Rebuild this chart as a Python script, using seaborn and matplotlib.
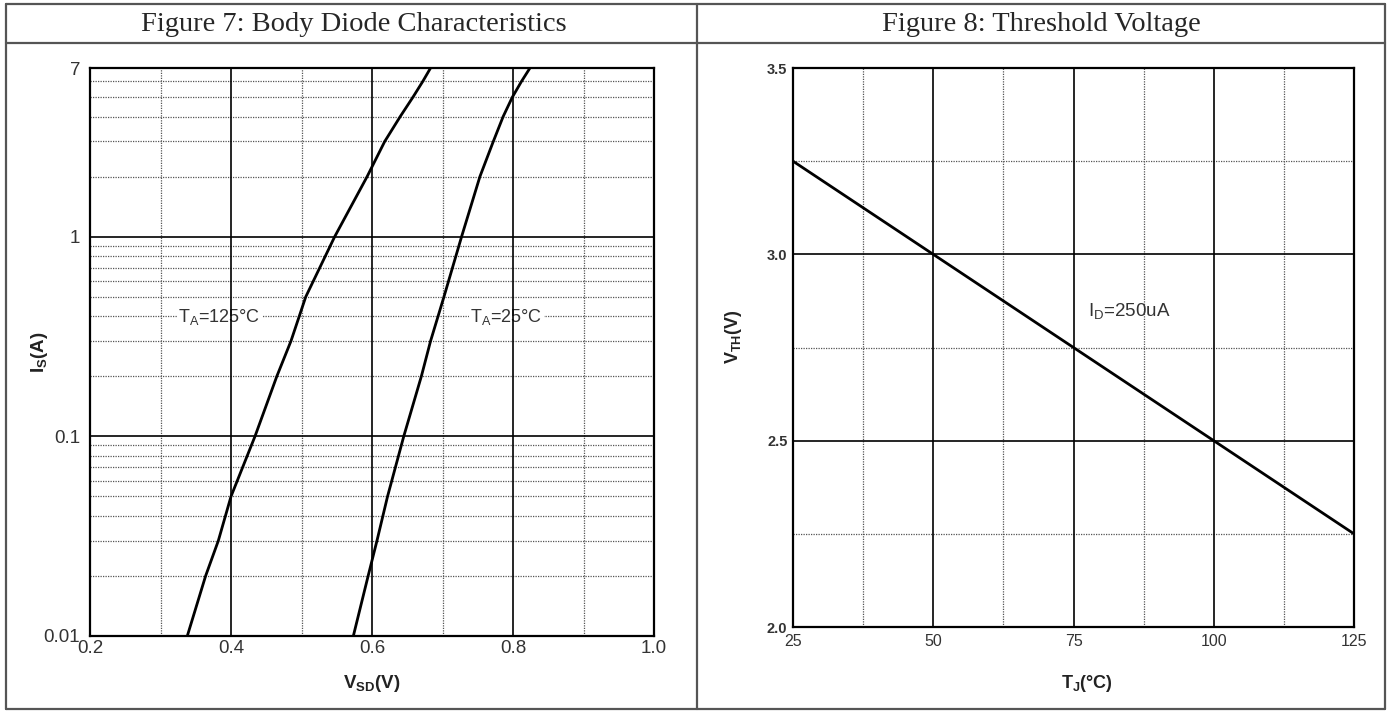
import matplotlib
matplotlib.use('Agg')
import matplotlib.pyplot as plt
import seaborn as sns
import pandas as pd
from matplotlib.lines import Line2D
from matplotlib.ticker import FixedLocator, NullFormatter

# Figure 7 data: body diode curves
is_current = [0.01, 0.02, 0.03, 0.05, 0.1, 0.2, 0.3, 0.5, 1.0, 2.0, 3.0, 4.0, 5.0, 6.0, 7.0]
vsd_125 = [0.338, 0.364, 0.382, 0.400, 0.434, 0.465, 0.485, 0.506, 0.547,
           0.593, 0.618, 0.640, 0.658, 0.672, 0.683]
vsd_25 = [0.5735, 0.5945, 0.607, 0.622, 0.645, 0.670, 0.683, 0.702, 0.727,
          0.753, 0.772, 0.786, 0.799, 0.812, 0.824]

# Figure 8 data: threshold voltage
tj = [25, 50, 75, 100, 125]
vth = [3.25, 3.0, 2.75, 2.5, 2.25]

sns.set_style('white')
plt.rcParams['font.family'] = ['Liberation Sans', 'DejaVu Sans']
plt.rcParams['mathtext.fontset'] = 'custom'
plt.rcParams['mathtext.rm'] = 'Liberation Sans'
plt.rcParams['mathtext.bf'] = 'Liberation Sans:bold'

fig = plt.figure(figsize=(13.91, 7.13), dpi=100)

# table frame
frame = '#555555'
for x0, y0, x1, y1 in [(0.004, 0.006, 0.996, 0.006), (0.004, 0.994, 0.996, 0.994),
                       (0.004, 0.006, 0.004, 0.994), (0.996, 0.006, 0.996, 0.994),
                       (0.501, 0.006, 0.501, 0.994), (0.004, 0.940, 0.996, 0.940)]:
    fig.add_artist(Line2D([x0, x1], [y0, y1], color=frame, lw=1.6, transform=fig.transFigure))

fig.text(0.254, 0.966, 'Figure 7: Body Diode Characteristics', ha='center', va='center',
         fontsize=20.5, family='Liberation Serif')
fig.text(0.749, 0.966, 'Figure 8: Threshold Voltage', ha='center', va='center',
         fontsize=20.5, family='Liberation Serif')

dot = dict(color='#555555', lw=0.9, ls=(0, (1, 1)), zorder=1)
solid = dict(color='black', lw=1.2, zorder=2)

# ---- Figure 7 ----
ax1 = fig.add_axes([0.0647, 0.108, 0.4055, 0.7966])
df7 = pd.DataFrame({'I': is_current * 2, 'V': vsd_125 + vsd_25,
                    'T': ['125'] * len(vsd_125) + ['25'] * len(vsd_25)})
sns.lineplot(data=df7, x='V', y='I', hue='T', palette=['black', 'black'], sort=False,
             estimator=None, lw=2, legend=False, ax=ax1, zorder=5)
ax1.set_yscale('log')
ax1.set_xlim(0.2, 1.0)
ax1.set_ylim(0.01, 7)
ax1.set_xticks([0.2, 0.4, 0.6, 0.8, 1.0])
ax1.set_xticklabels(['0.2', '0.4', '0.6', '0.8', '1.0'])
ax1.yaxis.set_major_locator(FixedLocator([0.01, 0.1, 1, 7]))
ax1.set_yticklabels(['0.01', '0.1', '1', '7'])
ax1.yaxis.set_minor_formatter(NullFormatter())
ax1.tick_params(axis='both', which='both', length=0, labelsize=13.5, colors='#333333')
ax1.tick_params(axis='y', pad=7)
ax1.tick_params(axis='x', pad=3)

minor_y = [k * 10.0 ** e for e in (-2, -1, 0) for k in range(2, 10) if k * 10.0 ** e < 7]
for v in minor_y:
    ax1.axhline(v, **dot)
for v in [0.1, 1]:
    ax1.axhline(v, **solid)
for v in [0.3, 0.5, 0.7, 0.9]:
    ax1.axvline(v, **dot)
for v in [0.4, 0.6, 0.8]:
    ax1.axvline(v, **solid)
for s in ax1.spines.values():
    s.set_color('black')
    s.set_linewidth(1.6)

ax1.set_xlabel(r'$\mathbf{V_{SD}(V)}$', fontsize=13.5, color='#222222')
ax1.set_ylabel(r'$\mathbf{I_S(A)}$', fontsize=13.5, color='#222222')
ax1.xaxis.set_label_coords(0.5, -0.066)
ax1.yaxis.set_label_coords(-0.071, 0.5)
bbox = dict(facecolor='white', edgecolor='none', pad=1)
ax1.text(0.325, 0.395, r'T$_\mathregular{A}$=125°C', fontsize=13, color='#333333',
         va='center', bbox=bbox, zorder=1.5)
ax1.text(0.739, 0.395, r'T$_\mathregular{A}$=25°C', fontsize=13, color='#333333',
         va='center', bbox=bbox, zorder=1.5)

# ---- Figure 8 ----
ax2 = fig.add_axes([0.5701, 0.1206, 0.4033, 0.784])
sns.lineplot(x=tj, y=vth, color='black', lw=2, ax=ax2, zorder=5)
ax2.set_xlim(25, 125)
ax2.set_ylim(2.0, 3.5)
ax2.set_xticks([25, 50, 75, 100, 125])
ax2.set_yticks([2.0, 2.5, 3.0, 3.5])
ax2.set_yticklabels(['2.0', '2.5', '3.0', '3.5'])
ax2.tick_params(axis='x', length=0, labelsize=11.5, colors='#333333', pad=5)
ax2.tick_params(axis='y', length=0, labelsize=10.5, colors='#333333', pad=4)
for lab in ax2.get_yticklabels():
    lab.set_fontweight('bold')
for v in [2.25, 2.75, 3.25]:
    ax2.axhline(v, **dot)
for v in [2.5, 3.0]:
    ax2.axhline(v, **solid)
for v in [37.5, 62.5, 87.5, 112.5]:
    ax2.axvline(v, **dot)
for v in [50, 75, 100]:
    ax2.axvline(v, **solid)
for s in ax2.spines.values():
    s.set_color('black')
    s.set_linewidth(1.6)
ax2.set_xlabel(r'$\mathbf{T_J}$(°C)', fontsize=13, fontweight='bold', color='#222222')
ax2.set_ylabel(r'$\mathbf{V_{TH}(V)}$', fontsize=13, color='#222222')
ax2.xaxis.set_label_coords(0.524, -0.082)
ax2.yaxis.set_label_coords(-0.087, 0.52)
ax2.text(77.6, 2.846, r'I$_\mathregular{D}$=250uA', fontsize=13.5, color='#333333',
         va='center', zorder=4)

fig.savefig('out.png', dpi=100)
